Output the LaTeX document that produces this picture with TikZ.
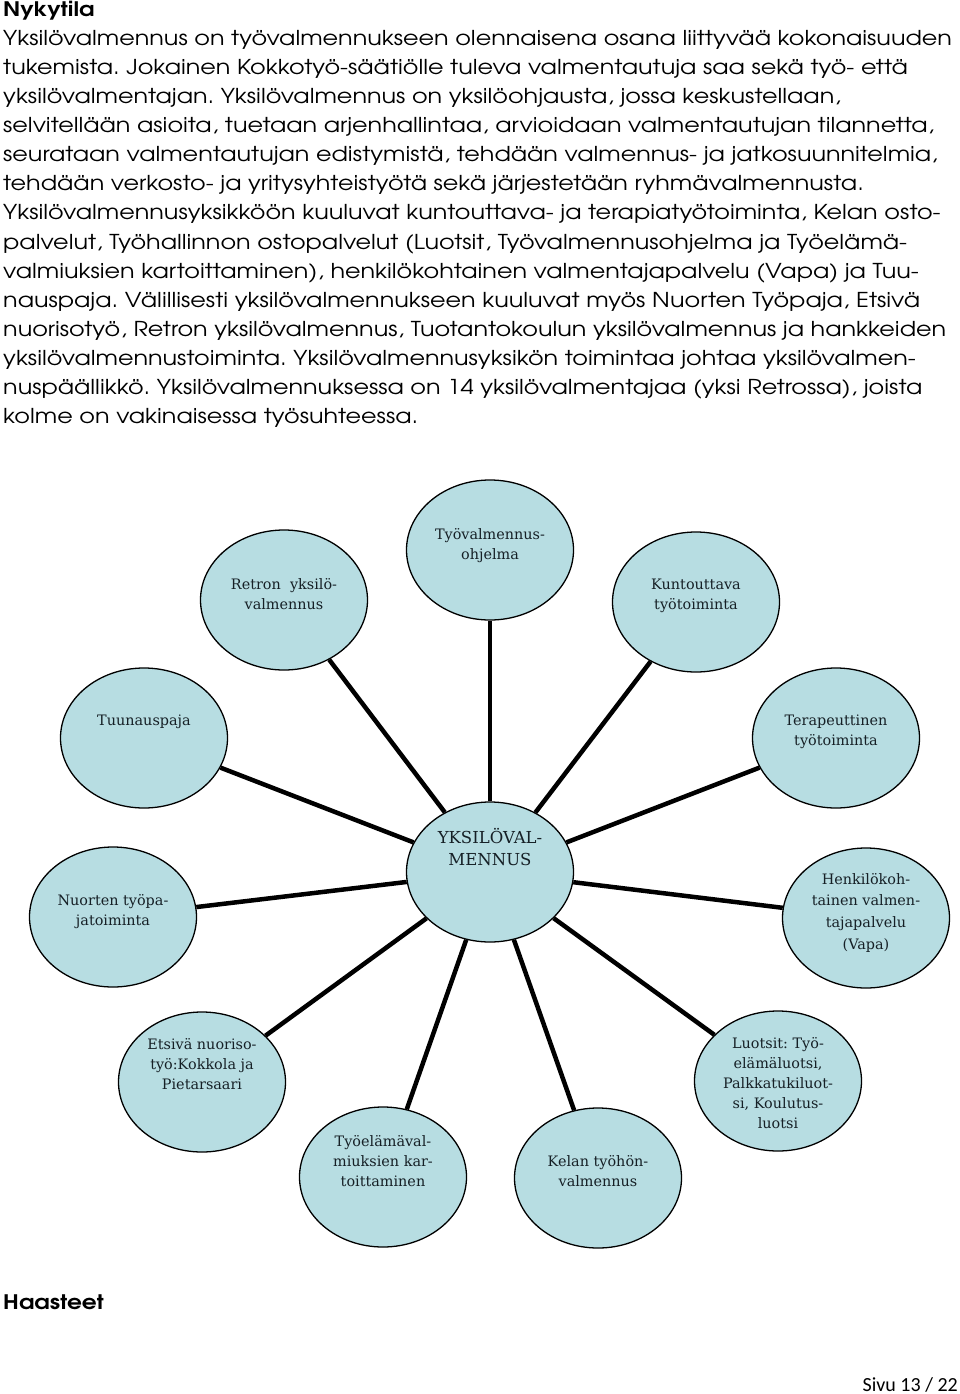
\documentclass[tikz,border=0pt]{standalone}
\usepackage{fontspec}
\usepackage{xcolor}
\usepackage{tikz}
\usetikzlibrary{shapes.geometric}
\newfontfamily\gothic{texgyreadventor}[Extension=.otf, UprightFont=*-regular, BoldFont=*-bold, FakeStretch=1.165]
\newfontfamily\bubblefont{DejaVu Serif}
\newfontfamily\calib{Carlito}
\definecolor{bubblefill}{RGB}{183,221,226}
\definecolor{ink}{RGB}{22,32,38}
\frenchspacing

\begin{document}
\begin{tikzpicture}[
        x=1pt, y=-1pt,
        bubble/.style={ellipse, draw, line width=1.3pt, fill=bubblefill, minimum width=167pt, minimum height=140pt, inner sep=0pt},
        lbl/.style={align=center, anchor=north, inner sep=0pt, text=ink, font=\bubblefont\fontsize{14.4}{20}\selectfont},
        conn/.style={line width=4.5pt},
        body/.style={align=left, inner sep=0pt, font=\gothic\fontsize{20.5}{29.1}\selectfont},
        heading/.style={anchor=base west, inner sep=0pt, font=\gothic\bfseries\fontsize{20}{24}\selectfont},
    ]
        \useasboundingbox (0,0) rectangle (960,1394);

        % page text
        \node[heading] (nykytila) at (3,17) {Nykytila};
        \node[body, anchor=north west] (kuvaus) at (3,30) {Yksilövalmennus on työvalmennukseen olennaisena osana liittyvää kokonaisuuden\\
tukemista. Jokainen Kokkotyö-säätiölle tuleva valmentautuja saa sekä työ- että\\
yksilövalmentajan. Yksilövalmennus on yksilöohjausta, jossa keskustellaan,\\
selvitellään asioita, tuetaan arjenhallintaa, arvioidaan valmentautujan tilannetta,\\
seurataan valmentautujan edistymistä, tehdään valmennus- ja jatkosuunnitelmia,\\
tehdään verkosto- ja yritysyhteistyötä sekä järjestetään ryhmävalmennusta.\\
Yksilövalmennusyksikköön kuuluvat kuntouttava- ja terapiatyötoiminta, Kelan osto-\\
palvelut, Työhallinnon ostopalvelut (Luotsit, Työvalmennusohjelma ja Työelämä-\\
valmiuksien kartoittaminen), henkilökohtainen valmentajapalvelu (Vapa) ja Tuu-\\
nauspaja. Välillisesti yksilövalmennukseen kuuluvat myös Nuorten Työpaja, Etsivä\\
nuorisotyö, Retron yksilövalmennus, Tuotantokoulun yksilövalmennus ja hankkeiden\\
yksilövalmennustoiminta. Yksilövalmennusyksikön toimintaa johtaa yksilövalmen-\\
nuspäällikkö. Yksilövalmennuksessa on 14 yksilövalmentajaa (yksi Retrossa), joista\\
kolme on vakinaisessa työsuhteessa.};

        % bubbles
        \node[bubble] (yv) at (490,872) {};
        \node[bubble] (tvo) at (490,550) {};
        \node[bubble] (retron) at (284,600) {};
        \node[bubble] (kunto) at (696,602) {};
        \node[bubble] (tera) at (836,738) {};
        \node[bubble] (tuuna) at (144,738) {};
        \node[bubble] (henk) at (866,918) {};
        \node[bubble] (nuoret) at (113,917) {};
        \node[bubble] (etsiva) at (202,1082) {};
        \node[bubble] (luotsit) at (778,1081) {};
        \node[bubble] (tyoela) at (383,1177) {};
        \node[bubble] (kela) at (598,1178) {};

        \draw[conn] (yv) -- (tvo);
        \draw[conn] (yv) -- (retron);
        \draw[conn] (yv) -- (kunto);
        \draw[conn] (yv) -- (tera);
        \draw[conn] (yv) -- (tuuna);
        \draw[conn] (yv) -- (henk);
        \draw[conn] (yv) -- (nuoret);
        \draw[conn] (yv) -- (etsiva);
        \draw[conn] (yv) -- (luotsit);
        \draw[conn] (yv) -- (tyoela);
        \draw[conn] (yv) -- (kela);

        % bubble texts
        \node[lbl, font=\bubblefont\fontsize{16.5}{22}\selectfont] (yv-txt) at (490,828) {YKSILÖVAL-\\MENNUS};
        \node[lbl] (tvo-txt) at (490,528) {Työvalmennus-\\ohjelma};
        \node[lbl] (retron-txt) at (284,578) {Retron\ \ yksilö-\\valmennus};
        \node[lbl] (kunto-txt) at (696,579) {Kuntouttava\\työtoiminta};
        \node[lbl] (tera-txt) at (836,715) {Terapeuttinen\\työtoiminta};
        \node[lbl] (tuuna-txt) at (144,715) {Tuunauspaja};
        \node[lbl, font=\bubblefont\fontsize{14.4}{21.6}\selectfont] (henk-txt) at (866,873) {Henkilökoh-\\tainen valmen-\\tajapalvelu\\(Vapa)};
        \node[lbl] (nuoret-txt) at (113,894) {Nuorten työpa-\\jatoiminta};
        \node[lbl] (etsiva-txt) at (202,1038) {Etsivä nuoriso-\\työ:Kokkola ja\\Pietarsaari};
        \node[lbl] (luotsit-txt) at (778,1037) {Luotsit: Työ-\\elämäluotsi,\\Palkkatukiluot-\\si, Koulutus-\\luotsi};
        \node[lbl] (tyoela-txt) at (383,1135) {Työelämäval-\\miuksien kar-\\toittaminen};
        \node[lbl] (kela-txt) at (598,1155) {Kelan työhön-\\valmennus};

        \node[heading] (haasteet) at (3,1309) {Haasteet};
        \node[anchor=base east, inner sep=0pt, font=\calib\fontsize{20}{24}\selectfont] (sivu) at (958,1391) {Sivu 13 / 22};
    \end{tikzpicture}
\end{document}
